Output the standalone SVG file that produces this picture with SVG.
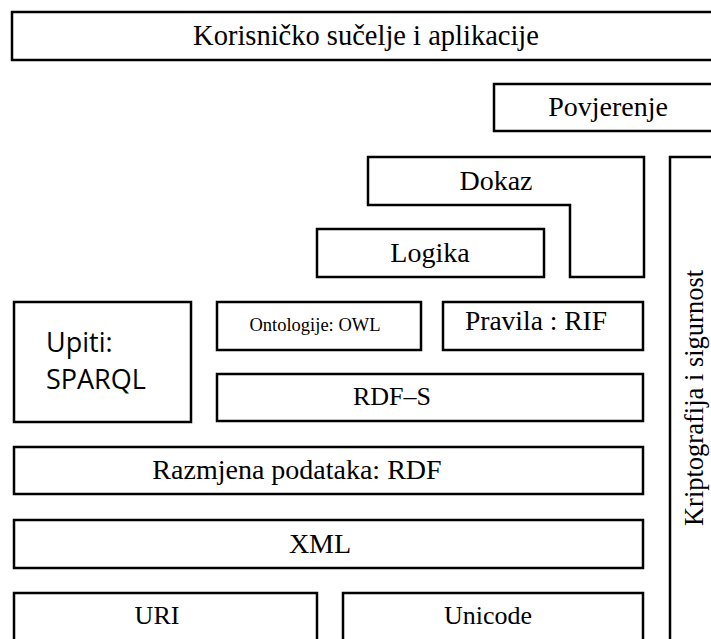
<svg xmlns="http://www.w3.org/2000/svg" width="711" height="639" viewBox="0 0 711 639">
<style>
.b{fill:#fff;stroke:#000;stroke-width:2.5}
.t{font-family:"Liberation Serif","Times New Roman",serif;font-size:28px;fill:#000;text-anchor:middle}
.s{font-family:"Open Sans","Liberation Sans",sans-serif;font-size:27px;fill:#000}
</style>
<rect width="711" height="639" fill="#fff"/>
<g id="ui"><rect class="b" x="12" y="12" width="710" height="48"/><text class="t" x="366" y="45" style="font-size:28.5px">Korisničko sučelje i aplikacije</text></g>
<g id="povjerenje"><rect class="b" x="494" y="84" width="230" height="47"/><text class="t" x="608" y="116">Povjerenje</text></g>
<g id="dokaz"><path class="b" d="M368,157 H644 V277 H570 V205 H368 Z"/><text class="t" x="496" y="190">Dokaz</text></g>
<g id="logika"><rect class="b" x="317" y="229" width="227" height="48"/><text class="t" x="430" y="262">Logika</text></g>
<g id="kripto"><rect class="b" x="670" y="157" width="60" height="500"/><text class="t" transform="translate(703,398) rotate(-90)" style="font-size:26.5px">Kriptografija i sigurnost</text></g>
<g id="upiti"><rect class="b" x="14" y="302" width="177" height="120"/><text class="s" x="46" y="352">Upiti:</text><text class="s" x="46" y="389">SPARQL</text></g>
<g id="owl"><rect class="b" x="217" y="302" width="204" height="48"/><text class="t" x="315" y="331" style="font-size:18.5px">Ontologije: OWL</text></g>
<g id="rif"><rect class="b" x="443" y="302" width="200" height="48"/><text class="t" x="536" y="330" style="font-size:27.5px">Pravila : RIF</text></g>
<g id="rdfs"><rect class="b" x="217" y="374" width="426" height="47"/><text class="t" x="392" y="405" style="font-size:26px">RDF–S</text></g>
<g id="rdf"><rect class="b" x="14" y="447" width="629" height="47"/><text class="t" x="297" y="479">Razmjena podataka: RDF</text></g>
<g id="xml"><rect class="b" x="14" y="520" width="629" height="48"/><text class="t" x="320" y="553">XML</text></g>
<g id="uri"><rect class="b" x="14" y="593" width="303" height="60"/><text class="t" x="157" y="624" style="font-size:26px">URI</text></g>
<g id="unicode"><rect class="b" x="343" y="593" width="300" height="60"/><text class="t" x="488" y="624" style="font-size:26px">Unicode</text></g>
<g id="connectors"/>
</svg>
